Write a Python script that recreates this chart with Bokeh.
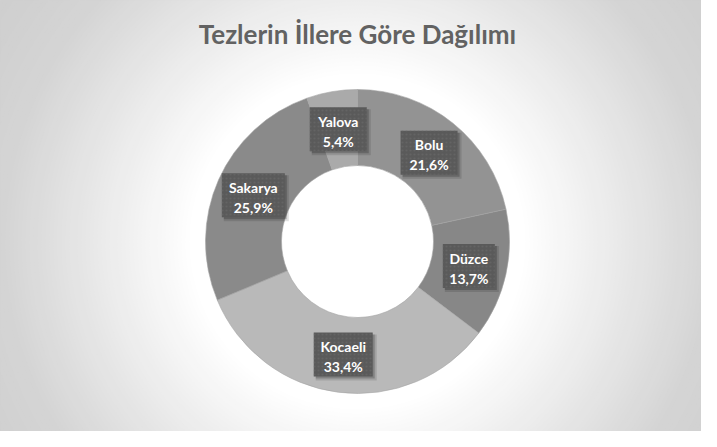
import numpy as np
from bokeh.plotting import figure
from bokeh.models import Label
from bokeh.core.properties import value
from bokeh.embed import file_html
from bokeh.resources import INLINE

# ---- data ----
provinces = ["Bolu", "Düzce", "Kocaeli", "Sakarya", "Yalova"]
shares = [21.6, 13.7, 33.4, 25.9, 5.4]
pct_labels = ["21,6%", "13,7%", "33,4%", "25,9%", "5,4%"]
title_text = "Tezlerin İllere Göre Dağılımı"

# ---- styles ----
slice_colors = ["#939393", "#878787", "#b9b9b9", "#8a8a8a", "#aaaaaa"]
box_w = [57, 52, 59, 63, 57]
box_h = 44

W, H = 701, 431
cx, cy = 357, H - 241
r_out, r_in = 152, 76

p = figure(width=W, height=H, x_range=(0, W), y_range=(0, H),
           output_backend="svg", toolbar_location=None, min_border=0)
p.axis.visible = False
p.grid.visible = False
p.outline_line_color = "#d6d6d6"
p.background_fill_color = "#cecece"
p.border_fill_color = "#ffffff"

# radial background gradient with white glow around the ring
radii = np.arange(460, 160, -4)
levels = np.interp(radii, [168, 235, 355, 460], [255, 240, 213, 205])
p.circle(x=[cx] * len(radii), y=[cy] * len(radii), radius=radii,
         fill_color=["#%02x%02x%02x" % (int(v), int(v), int(v)) for v in levels],
         line_color=None)

# donut
frac = np.array(shares) / sum(shares)
cum = np.concatenate([[0], np.cumsum(frac)])
starts = np.pi / 2 - 2 * np.pi * cum[:-1]
ends = np.pi / 2 - 2 * np.pi * cum[1:]
p.annular_wedge(x=cx, y=cy, inner_radius=r_in, outer_radius=r_out,
                start_angle=starts, end_angle=ends, direction="clock",
                fill_color=slice_colors, line_color="#a4a4a4", line_width=0.6)

# labels
mid = np.pi / 2 - 2 * np.pi * (cum[:-1] + cum[1:]) / 2
r_mid = (r_in + r_out) / 2
lx = cx + r_mid * np.cos(mid)
ly = cy + r_mid * np.sin(mid)

p.rect(x=lx + 3, y=ly - 3, width=[w + 2 for w in box_w], height=box_h + 2,
       fill_color="#000000", fill_alpha=0.12, line_color=None)
p.rect(x=lx + 2, y=ly - 2, width=box_w, height=box_h,
       fill_color="#000000", fill_alpha=0.2, line_color=None)
p.rect(x=lx, y=ly, width=box_w, height=box_h,
       fill_color="#5a5a5a", line_color=None,
       hatch_pattern="dot", hatch_color="#666666", hatch_scale=4, hatch_alpha=0.8)

p.text(x=lx, y=ly, text=provinces, y_offset=-8,
       text_font=value("Lato"), text_font_style="bold", text_font_size="14px",
       text_color="#ffffff", text_align="center", text_baseline="middle")
p.text(x=lx, y=ly, text=pct_labels, y_offset=12,
       text_font=value("Lato"), text_font_style="bold", text_font_size="14px",
       text_color="#ffffff", text_align="center", text_baseline="middle")

p.add_layout(Label(x=357, y=H - 33, text=title_text, text_font="Lato",
                   text_font_style="bold", text_font_size="26px",
                   text_color="#626262", text_align="center",
                   text_baseline="middle"))

open("out.html", "w").write(file_html(p, INLINE))
